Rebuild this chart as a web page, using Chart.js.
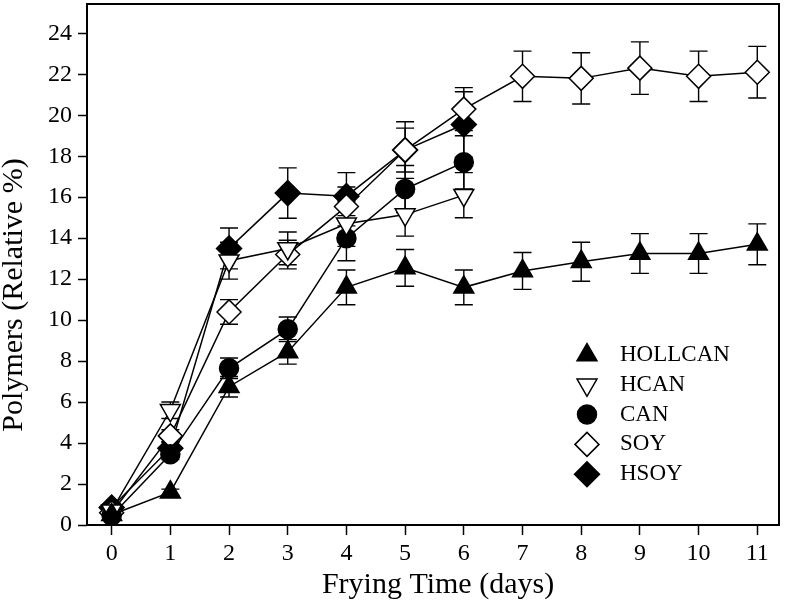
<!DOCTYPE html>
<html>
<head>
<meta charset="utf-8">
<script src="https://cdn.jsdelivr.net/npm/chart.js@4"></script>
<style>
  body { margin: 0; background: #fff; }
  #wrap { width: 786px; height: 600px; }
</style>
</head>
<body>
<div id="wrap"><canvas id="polyChart" width="786" height="600"></canvas></div>
<script>
// Datos (días de fritura vs. polímeros %)
const days = [0, 1, 2, 3, 4, 5, 6, 7, 8, 9, 10, 11];
const xTicks = [0, 1, 2, 3, 4, 5, 6, 7, 8, 9, 10, 11];
const yTicks = [0, 2, 4, 6, 8, 10, 12, 14, 16, 18, 20, 22, 24];

const hollcan = [0.5, 1.6, 6.75, 8.45, 11.6, 12.55, 11.6, 12.4, 12.85, 13.25, 13.25, 13.7];
const hollcanErr = [0.15, 0.15, 0.5, 0.6, 0.85, 0.9, 0.85, 0.9, 0.95, 0.97, 0.97, 1.0];

const hcan = [0.7, 5.6, 12.9, 13.5, 14.7, 15.15, 16.1];
const hcanErr = [0.15, 0.4, 0.9, 0.8, 1.1, 1.05, 1.1];

const can = [0.45, 3.45, 7.65, 9.55, 14.0, 16.4, 17.7];
const canErr = [0.15, 0.25, 0.5, 0.6, 1.1, 1.15, 1.3];

const soy = [0.6, 4.35, 10.4, 13.2, 15.55, 18.3, 20.3, 21.9, 21.8, 22.3, 21.9, 22.1];
const soyErr = [0.15, 0.3, 0.6, 0.7, 0.95, 1.07, 1.05, 1.23, 1.25, 1.28, 1.23, 1.26];

const hsoy = [0.85, 3.75, 13.5, 16.2, 16.05, 18.3, 19.55];
const hsoyErr = [0.15, 0.3, 1.0, 1.23, 1.15, 1.38, 1.6];

const xTitle = 'Frying Time (days)';
const yTitle = 'Polymers (Relative %)';

const FONT = "'Liberation Serif', 'DejaVu Serif', serif";
Chart.defaults.font.family = FONT;
Chart.defaults.color = '#000';

const toPoints = (vals) => vals.map((v, i) => ({ x: days[i], y: v }));

function serie(label, vals, errs, style, filled, radius, rotation) {
    return {
        label: label,
        data: toPoints(vals),
        errors: errs,
        borderColor: '#000',
        borderWidth: 1.5,
        pointStyle: style,
        pointRotation: rotation || 0,
        pointRadius: radius,
        pointHoverRadius: radius,
        pointBorderWidth: 1.5,
        pointBorderColor: '#000',
        pointBackgroundColor: filled ? '#000' : '#fff',
        fill: false,
        tension: 0
    };
}

// Barras de error (se dibujan debajo de los marcadores)
const errorBars = {
    id: 'errorBars',
    beforeDatasetsDraw(chart) {
        const { ctx, scales: { x, y } } = chart;
        ctx.save();
        ctx.strokeStyle = '#000';
        ctx.lineWidth = 1.4;
        chart.data.datasets.forEach(ds => {
            ds.data.forEach((p, i) => {
                const e = ds.errors[i];
                if (!e) return;
                const px = x.getPixelForValue(p.x);
                const top = y.getPixelForValue(p.y + e);
                const bot = y.getPixelForValue(p.y - e);
                ctx.beginPath();
                ctx.moveTo(px, top); ctx.lineTo(px, bot);
                ctx.moveTo(px - 9, top); ctx.lineTo(px + 9, top);
                ctx.moveTo(px - 9, bot); ctx.lineTo(px + 9, bot);
                ctx.stroke();
            });
        });
        ctx.restore();
    }
};

// Marco, títulos de ejes y leyenda dentro del área del gráfico
const frameAndLegend = {
    id: 'frameAndLegend',
    afterDraw(chart) {
        const { ctx, chartArea: a } = chart;
        ctx.save();
        ctx.strokeStyle = '#000';
        ctx.lineWidth = 2;
        ctx.strokeRect(a.left, a.top, a.right - a.left, a.bottom - a.top);

        // títulos
        ctx.fillStyle = '#000';
        ctx.font = '30px ' + FONT;
        ctx.textAlign = 'center';
        ctx.textBaseline = 'alphabetic';
        ctx.fillText(xTitle, 438, 593);
        ctx.save();
        ctx.translate(22, 295);
        ctx.rotate(-Math.PI / 2);
        ctx.fillText(yTitle, 0, 0);
        ctx.restore();

        // leyenda
        ctx.font = '23px ' + FONT;
        ctx.textBaseline = 'middle';
        ctx.textAlign = 'left';
        chart.data.datasets.forEach((ds, i) => {
            const ly = 355 + i * 29.8;
            ctx.fillStyle = ds.pointBackgroundColor;
            ctx.strokeStyle = '#000';
            ctx.lineWidth = 1.5;
            Chart.helpers.drawPoint(ctx, {
                pointStyle: ds.pointStyle,
                rotation: ds.pointRotation,
                radius: ds.pointRadius,
                borderWidth: 1.5
            }, 587, ly);
            ctx.fillStyle = '#000';
            ctx.fillText(ds.label, 620, ly);
        });
        ctx.restore();
    }
};

const ctx = document.getElementById('polyChart').getContext('2d');
new Chart(ctx, {
    type: 'line',
    data: {
        datasets: [
            serie('HOLLCAN', hollcan, hollcanErr, 'triangle', true, 11.5),
            serie('HCAN', hcan, hcanErr, 'triangle', false, 11.5, 180),
            serie('CAN', can, canErr, 'circle', true, 9.5),
            serie('SOY', soy, soyErr, 'rectRot', false, 12),
            serie('HSOY', hsoy, hsoyErr, 'rectRot', true, 12.5)
        ]
    },
    options: {
        responsive: false,
        animation: false,
        events: [],
        layout: { autoPadding: false, padding: { top: 4, right: 7, left: 0, bottom: 0 } },
        plugins: {
            legend: { display: false },
            tooltip: { enabled: false }
        },
        scales: {
            x: {
                type: 'linear',
                min: -0.42,
                max: 11.37,
                afterFit: (s) => { s.height = 75; s.paddingLeft = 0; s.paddingRight = 0; },
                afterBuildTicks: (s) => { s.ticks = xTicks.map(v => ({ value: v })); },
                grid: { drawOnChartArea: false, drawTicks: true, tickLength: 10, color: '#000', tickColor: '#000', tickWidth: 1.5 },
                border: { display: false },
                ticks: { autoSkip: false, maxRotation: 0, padding: 4, font: { size: 24 }, color: '#000' },
                title: { display: false }
            },
            y: {
                min: 0,
                max: 25.43,
                afterFit: (s) => { s.width = 87; s.paddingTop = 0; s.paddingBottom = 0; },
                afterBuildTicks: (s) => { s.ticks = yTicks.map(v => ({ value: v })); },
                grid: { drawOnChartArea: false, drawTicks: true, tickLength: 9, color: '#000', tickColor: '#000', tickWidth: 1.5 },
                border: { display: false },
                ticks: { padding: 6, font: { size: 24 }, color: '#000' },
                title: { display: false }
            }
        }
    },
    plugins: [errorBars, frameAndLegend]
});
</script>
</body>
</html>
